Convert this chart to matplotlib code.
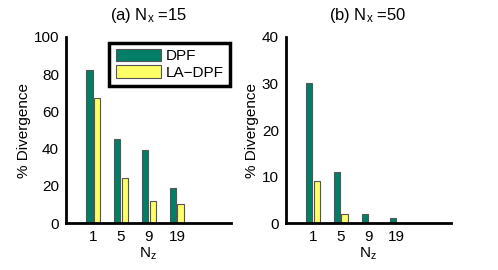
import numpy as np
import matplotlib
matplotlib.use("Agg")
import matplotlib.pyplot as plt

plt.rcParams['font.family'] = ['Liberation Sans', 'DejaVu Sans']
plt.rcParams['mathtext.fontset'] = 'custom'
plt.rcParams['mathtext.rm'] = 'Liberation Sans'
plt.rcParams['mathtext.it'] = 'Liberation Sans'

# data
nz_labels = ['1', '5', '9', '19']
dpf_15 = [82, 45, 39, 19]
ladpf_15 = [67, 24, 12, 10]
dpf_50 = [30, 11, 2, 1]
ladpf_50 = [9, 2, 0, 0]

green = '#007f66'
yellow = '#ffff66'

fig = plt.figure(figsize=(4.98, 2.7), dpi=100)
ax1 = fig.add_axes([0.1325, 0.174, 0.331, 0.689])
ax2 = fig.add_axes([0.574, 0.174, 0.331, 0.689])

x = np.arange(1, len(nz_labels) + 1)
w = 0.22


def draw(ax, dpf, ladpf, ymax, title):
    b1 = ax.bar(x - 0.13, dpf, w, color=green, edgecolor='#555555', linewidth=0.8, label='DPF')
    b2 = ax.bar(x + 0.13, ladpf, w, color=yellow, edgecolor='#555555', linewidth=0.8, label='LA\u2212DPF')
    ax.set_xlim(0.03, 5.93)
    ax.set_ylim(0, ymax)
    ax.set_yticks(np.linspace(0, ymax, 6) if ymax == 100 else np.arange(0, ymax + 1, 10))
    ax.set_xticks(x)
    ax.set_xticklabels(nz_labels)
    ax.tick_params(length=0, labelsize=11, pad=5)
    for s in ['top', 'right']:
        ax.spines[s].set_visible(False)
    for s in ['left', 'bottom']:
        ax.spines[s].set_linewidth(2)
    ax.set_ylabel('% Divergence', fontsize=11, labelpad=2)
    ax.set_xlabel(r'N$_{\mathrm{z}}$', fontsize=11, labelpad=1)
    ax.set_title(title, fontsize=12, pad=12)
    return b1, b2


draw(ax1, dpf_15, ladpf_15, 100, r'(a) N$_{\mathrm{x}}$ =15')
draw(ax2, dpf_50, ladpf_50, 40, r'(b) N$_{\mathrm{x}}$ =50')

leg = ax1.legend(loc='upper right', bbox_to_anchor=(0.995, 0.97), fontsize=11,
                 fancybox=False, framealpha=1, edgecolor='black',
                 handlelength=3.0, handleheight=0.85, borderpad=0.4,
                 labelspacing=0.15, handletextpad=0.3, borderaxespad=0)
leg.get_frame().set_linewidth(2.5)

fig.savefig('out.png', dpi=100)
